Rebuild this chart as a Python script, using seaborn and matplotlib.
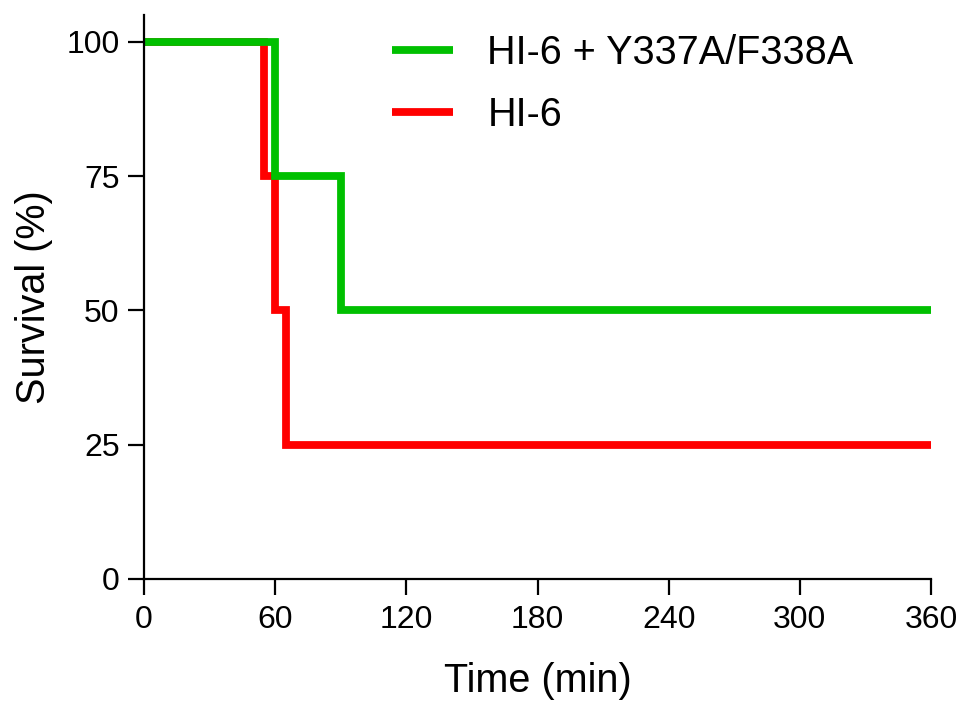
import pandas as pd
import matplotlib
matplotlib.use("Agg")
import matplotlib.pyplot as plt
import seaborn as sns

# Kaplan-Meier steps
combo_label = "HI-6 + Y337A/F338A"
combo_time = [0, 60, 90, 360]
combo_surv = [100, 75, 50, 50]

hi6_label = "HI-6"
hi6_time = [0, 55, 60, 65, 360]
hi6_surv = [100, 75, 50, 25, 25]

x_ticks = [0, 60, 120, 180, 240, 300, 360]
y_ticks = [0, 25, 50, 75, 100]

colors = {combo_label: "#00c000", hi6_label: "#ff0000"}

df = pd.concat([
    pd.DataFrame({"time": hi6_time, "survival": hi6_surv, "group": hi6_label}),
    pd.DataFrame({"time": combo_time, "survival": combo_surv, "group": combo_label}),
], ignore_index=True)

sns.set_style("ticks")
plt.rcParams["font.family"] = ["Liberation Sans", "DejaVu Sans"]
plt.rcParams["text.color"] = "black"
plt.rcParams["axes.labelcolor"] = "black"
plt.rcParams["lines.solid_capstyle"] = "butt"

fig = plt.figure(figsize=(9.65, 7.07), dpi=100)
ax = fig.add_axes([144 / 965, 1 - 579 / 707, 787 / 965, 564 / 707])

# red drawn first so green sits on top, like the original
sns.lineplot(data=df, x="time", y="survival", hue="group",
             hue_order=[hi6_label, combo_label], palette=colors,
             drawstyle="steps-post", estimator=None, sort=False,
             linewidth=5.6, solid_joinstyle="miter", solid_capstyle="butt", ax=ax)

ax.set_xlim(0, 360)
ax.set_ylim(0, 105)
ax.set_xticks(x_ticks)
ax.set_yticks(y_ticks)
sns.despine(ax=ax)
for side in ["left", "bottom"]:
    ax.spines[side].set_linewidth(1.6)
    ax.spines[side].set_color("black")
ax.tick_params(axis="both", length=11.5, width=1.6, color="black",
               labelsize=23, labelcolor="black")
ax.tick_params(axis="x", pad=7)
ax.tick_params(axis="y", pad=6)

ax.set_xlabel("Time (min)", fontsize=28.5, labelpad=20)
ax.set_ylabel("Survival (%)", fontsize=28.5, labelpad=10)

handles, labels = ax.get_legend_handles_labels()
leg = ax.legend(handles[::-1], labels[::-1], loc="upper left",
                bbox_to_anchor=(392 / 965, 1 - 34 / 707),
                bbox_transform=fig.transFigure, frameon=False, fontsize=28.5,
                handlelength=1.53, handletextpad=0.88, labelspacing=0.6,
                borderpad=0, borderaxespad=0)
for h in leg.get_lines():
    h.set_solid_capstyle("butt")

fig.savefig("out.png", dpi=100)
